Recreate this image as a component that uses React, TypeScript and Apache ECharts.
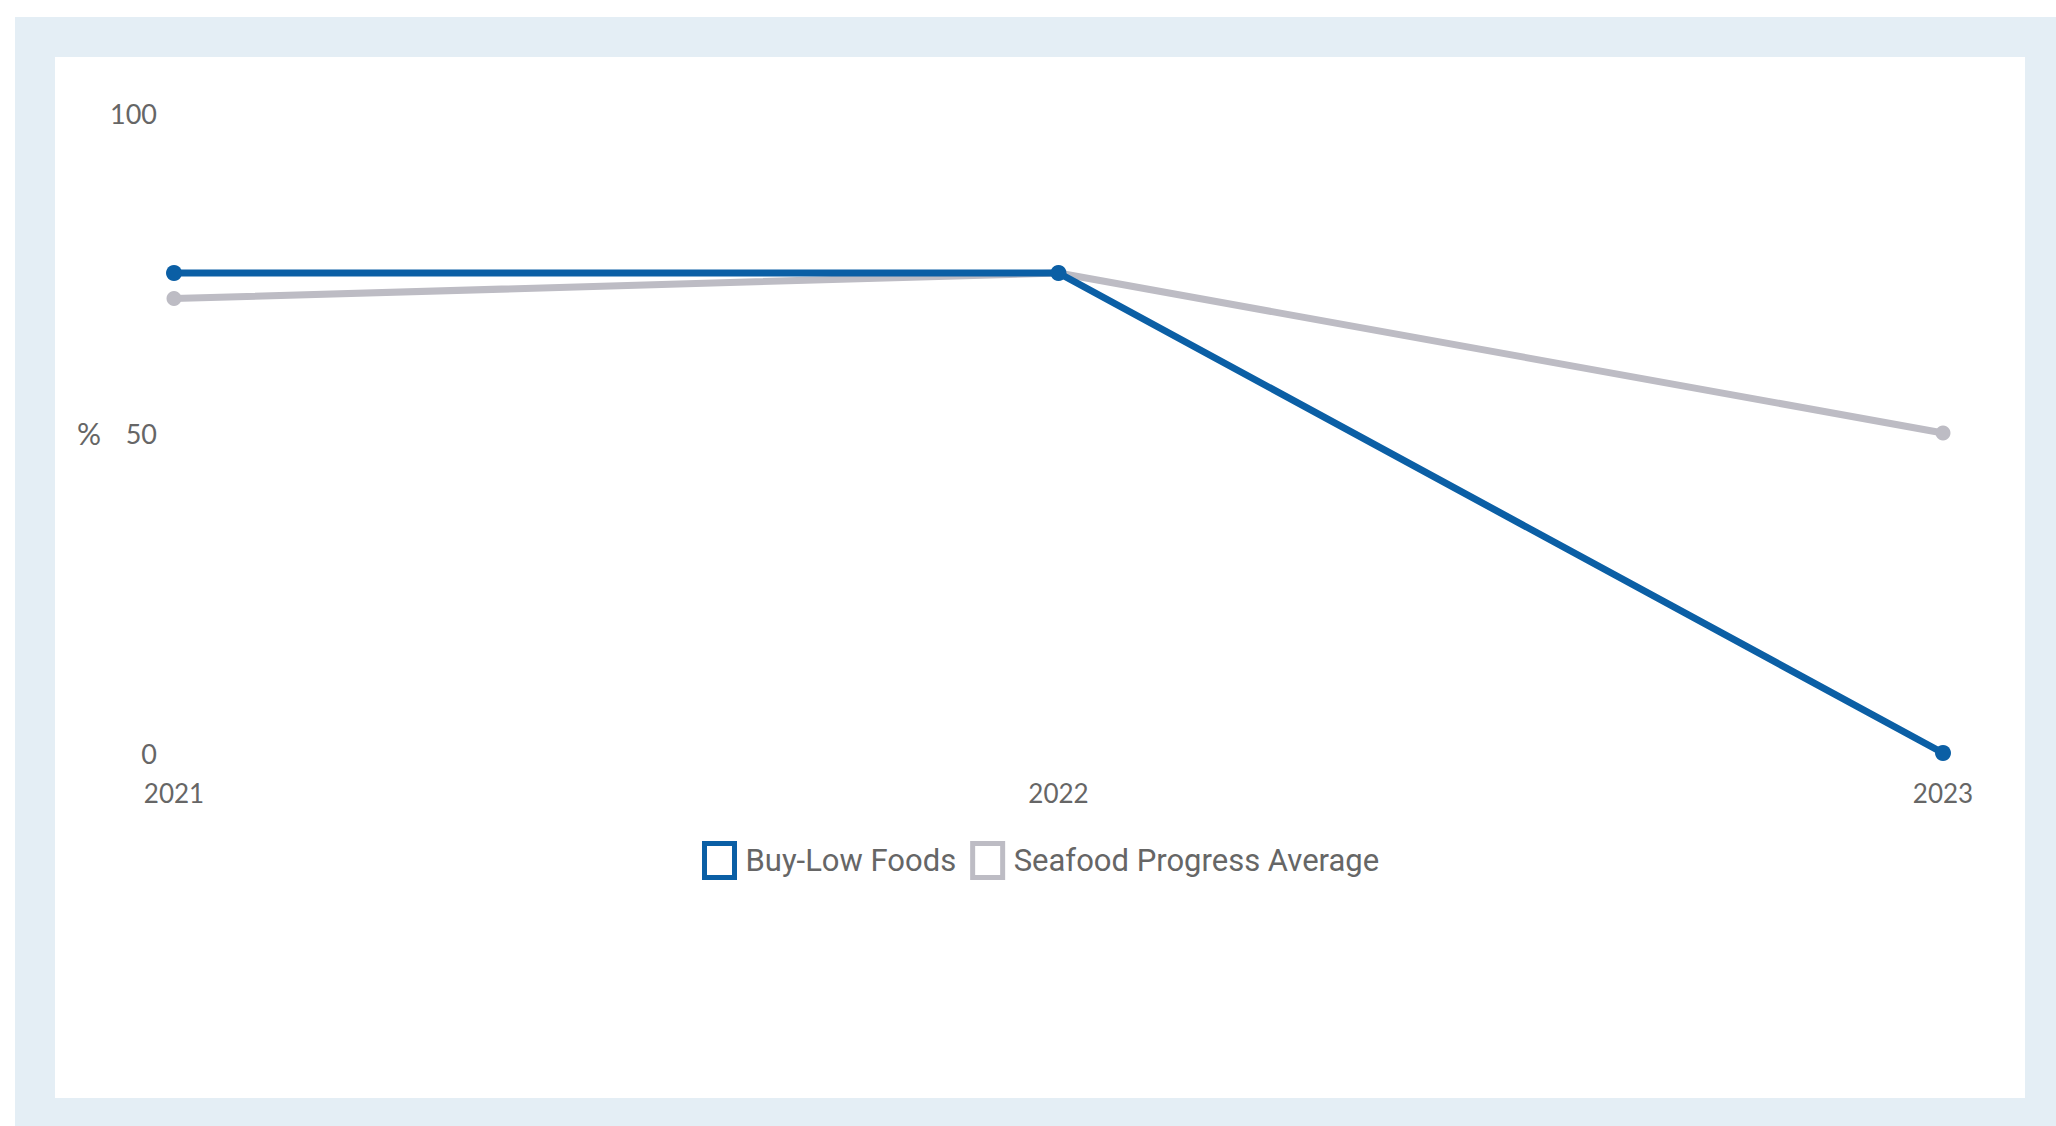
import React, { useEffect, useRef } from "react";
import * as echarts from "echarts";

const years = ["2021", "2022", "2023"];
const buyLow = [75, 75, 0];
const seafoodAvg = [71, 75, 50];
const seriesNames = ["Buy-Low Foods", "Seafood Progress Average"];
const yTicks = { min: 0, max: 100, interval: 50 };

const BLUE = "#0b5fa5";
const GRAY = "#bdbcc4";
const LABEL = "#666666";

export default function App() {
  const ref = useRef<HTMLDivElement>(null);
  useEffect(() => {
    if (!ref.current) return;
    const chart = echarts.init(ref.current, undefined, { renderer: "svg" });
    chart.setOption({
      animation: false,
      backgroundColor: "#ffffff",
      graphic: [
        { type: "rect", z: -10, shape: { x: 15, y: 17, width: 2041, height: 1109 }, style: { fill: "#e4eef5" }, silent: true },
        { type: "rect", z: -9, shape: { x: 55, y: 57, width: 1970, height: 1041 }, style: { fill: "#ffffff" }, silent: true },
      ],
      grid: { left: 174, right: 113, top: 113, bottom: 373, containLabel: false },
      xAxis: {
        type: "category",
        data: years,
        boundaryGap: false,
        axisLine: { show: false },
        axisTick: { show: false },
        splitLine: { show: false },
        axisLabel: { color: LABEL, fontSize: 26, fontFamily: "Lato", margin: 27 },
      },
      yAxis: {
        type: "value",
        min: yTicks.min,
        max: yTicks.max,
        interval: yTicks.interval,
        name: "%",
        nameLocation: "middle",
        nameRotate: 0,
        nameGap: 85,
        nameTextStyle: { color: LABEL, fontSize: 30, fontFamily: "Lato", align: "center" },
        axisLine: { show: false },
        axisTick: { show: false },
        splitLine: { show: false },
        axisLabel: { color: LABEL, fontSize: 27, fontFamily: "Lato", margin: 17 },
      },
      legend: {
        left: 697,
        top: 836,
        icon: "rect",
        itemWidth: 30,
        itemHeight: 34,
        itemGap: 14,
        textStyle: { color: LABEL, fontSize: 31, fontFamily: "Roboto", padding: [0, 0, 0, 6] },
        data: [
          { name: seriesNames[0], itemStyle: { color: "#ffffff", borderColor: BLUE, borderWidth: 5 } },
          { name: seriesNames[1], itemStyle: { color: "#ffffff", borderColor: GRAY, borderWidth: 5 } },
        ],
      },
      series: [
        {
          name: seriesNames[1],
          type: "line",
          data: seafoodAvg,
          symbol: "circle",
          symbolSize: 15,
          itemStyle: { color: GRAY },
          lineStyle: { color: GRAY, width: 7 },
          z: 2,
        },
        {
          name: seriesNames[0],
          type: "line",
          data: buyLow,
          symbol: "circle",
          symbolSize: 16,
          itemStyle: { color: BLUE },
          lineStyle: { color: BLUE, width: 7 },
          z: 3,
        },
      ],
    });
    return () => chart.dispose();
  }, []);
  return (
    <div
      ref={ref}
      style={{ position: "fixed", left: 0, top: 0, width: 2056, height: 1126 }}
    />
  );
}
